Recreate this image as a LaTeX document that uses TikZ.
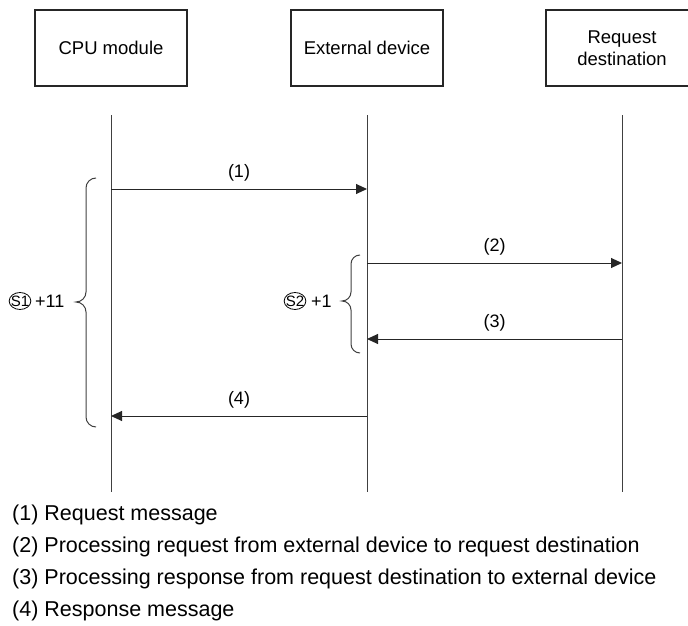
\documentclass[tikz,border=0pt]{standalone}
\usepackage{fontspec}
\setmainfont{Liberation Sans}
\usetikzlibrary{arrows.meta,shapes.geometric}
\begin{document}
\begin{tikzpicture}[x=1pt,y=-1pt,
  box/.style={draw=black!85,line width=2pt,minimum width=152pt,minimum height=76pt,inner sep=0pt,align=center,font=\fontsize{18.5}{22}\selectfont},
  life/.style={draw=black!75,line width=1pt},
  msg/.style={draw=black!85,line width=1pt,-{Triangle[length=11pt,width=10pt]}},
  lbl/.style={inner sep=0pt,font=\fontsize{18}{22}\selectfont},
  legend/.style={anchor=base west,inner sep=0pt,font=\fontsize{21.5}{26}\selectfont},
  curly/.style={draw=black!75,line width=1pt},
  sym/.style={draw,ellipse,line width=0.8pt,inner xsep=-1.5pt,inner ysep=0pt,minimum height=17pt,font=\fontsize{15}{15}\selectfont},
  plus/.style={anchor=west,inner sep=0pt,font=\fontsize{18}{22}\selectfont}
]
\useasboundingbox (0,0) rectangle (688,626);
\clip (0,0) rectangle (688,626);
% headers
\node[box] (cpu) at (111,48) {CPU module};
\node[box] (ext) at (367,48) {External device};
\node[box] (dst) at (622,48) {Request\\destination};
% lifelines
\coordinate (cpuT) at (111,115);
\coordinate (cpuB) at (111,492);
\coordinate (extT) at (367,115);
\coordinate (extB) at (367,492);
\coordinate (dstT) at (622,115);
\coordinate (dstB) at (622,492);
\draw[life] (cpuT) -- (cpuB);
\draw[life] (extT) -- (extB);
\draw[life] (dstT) -- (dstB);
% message endpoints
\coordinate (m1a) at (111,189);
\coordinate (m1b) at (367,189);
\coordinate (m2a) at (367,263);
\coordinate (m2b) at (622,263);
\coordinate (m3a) at (622,339);
\coordinate (m3b) at (367,339);
\coordinate (m4a) at (367,416);
\coordinate (m4b) at (111,416);
\draw[msg] (m1a) -- node[lbl,midway,yshift=16pt] (l1) {(1)} (m1b);
\draw[msg] (m2a) -- node[lbl,midway,yshift=16pt] (l2) {(2)} (m2b);
\draw[msg] (m3a) -- node[lbl,midway,yshift=16pt] (l3) {(3)} (m3b);
\draw[msg] (m4a) -- node[lbl,midway,yshift=16pt] (l4) {(4)} (m4b);
% braces
\draw[curly] (96,178) to[out=180,in=90] (86,188) -- (86,292)
  to[out=-90,in=0] (76,302) to[out=0,in=90] (86,312) -- (86,417)
  to[out=-90,in=180] (96,427);
\draw[curly] (360,255) to[out=180,in=90] (351,264) -- (351,292)
  to[out=-90,in=0] (342,301) to[out=0,in=90] (351,310) -- (351,344)
  to[out=-90,in=180] (360,353);
% brace labels
\node[sym] (s1) at (20,301) {S1};
\node[plus] (s1p) at (35,301) {+11};
\node[sym] (s2) at (295,301) {S2};
\node[plus] (s2p) at (311,301) {+1};
% legend
\node[legend] (k1) at (12,520) {(1) Request message};
\node[legend] (k2) at (12,552) {(2) Processing request from external device to request destination};
\node[legend] (k3) at (12,584) {(3) Processing response from request destination to external device};
\node[legend] (k4) at (12,616) {(4) Response message};
\end{tikzpicture}
\end{document}
